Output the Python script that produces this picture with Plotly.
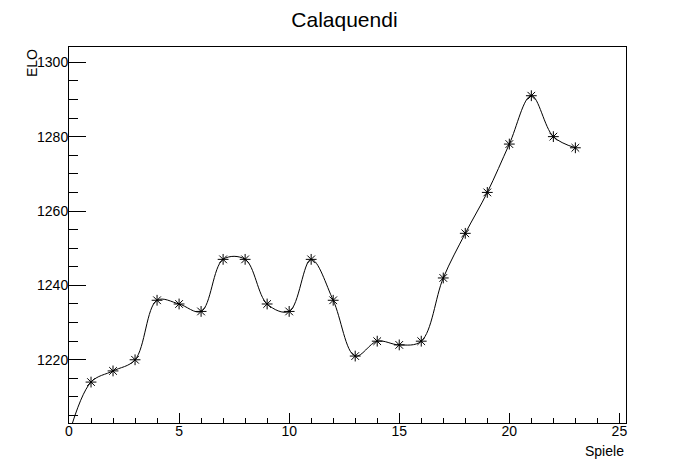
import plotly.graph_objects as go

games = list(range(0, 24))
elo = [1200, 1214, 1217, 1220, 1236, 1235, 1233, 1247, 1247, 1235, 1233, 1247,
       1236, 1221, 1225, 1224, 1225, 1242, 1254, 1265, 1278, 1291, 1280, 1277]

title_text = "Calaquendi"
x_title = "Spiele"
y_title = "ELO"

FONT = "Liberation Sans, Arial, Helvetica, sans-serif"

fig = go.Figure()
fig.add_trace(go.Scatter(
    x=games, y=elo, mode="lines+markers",
    line=dict(color="black", width=1, shape="spline", smoothing=1.0),
    marker=dict(symbol="asterisk-open", size=9, color="black",
                line=dict(color="black", width=1)),
    cliponaxis=True, showlegend=False,
))

fig.update_layout(
    width=688, height=464,
    margin=dict(l=61, r=70, t=39, b=49),
    paper_bgcolor="white", plot_bgcolor="white",
    font=dict(family=FONT, color="black", size=14),
    title=dict(text=title_text, x=0.489, xanchor="center", y=0.974, yanchor="middle",
               font=dict(size=21, family=FONT, color="black")),
    xaxis=dict(range=[0, 25.3], tickmode="array", tickvals=[0, 5, 10, 15, 20, 25],
               ticks="inside", ticklen=10, tickwidth=1, tickcolor="black",
               minor=dict(dtick=1, tick0=0, ticks="inside", ticklen=5, tickcolor="black", tickwidth=1),
               showline=True, linecolor="black", linewidth=1, mirror=True,
               showgrid=False, zeroline=False, tickfont=dict(size=14),
               ticklabelstandoff=-5),
    yaxis=dict(range=[1203, 1304.1], tickmode="array", tickvals=[1220, 1240, 1260, 1280, 1300],
               ticks="inside", ticklen=17, tickwidth=1, tickcolor="black",
               minor=dict(dtick=5, tick0=1200, ticks="inside", ticklen=9, tickcolor="black", tickwidth=1),
               showline=True, linecolor="black", linewidth=1, mirror=True,
               showgrid=False, zeroline=False, tickfont=dict(size=14),
               ticklabelstandoff=-3),
    annotations=[
        dict(text=x_title, xref="paper", yref="paper", x=1.0, y=-0.0745,
             xanchor="right", yanchor="middle", showarrow=False,
             font=dict(size=14, family=FONT, color="black")),
        dict(text=y_title, xref="paper", yref="paper", x=-0.0664, y=1.0,
             xanchor="center", yanchor="top", textangle=-90, showarrow=False,
             font=dict(size=14, family=FONT, color="black")),
    ],
)

fig.write_html("out.html")
